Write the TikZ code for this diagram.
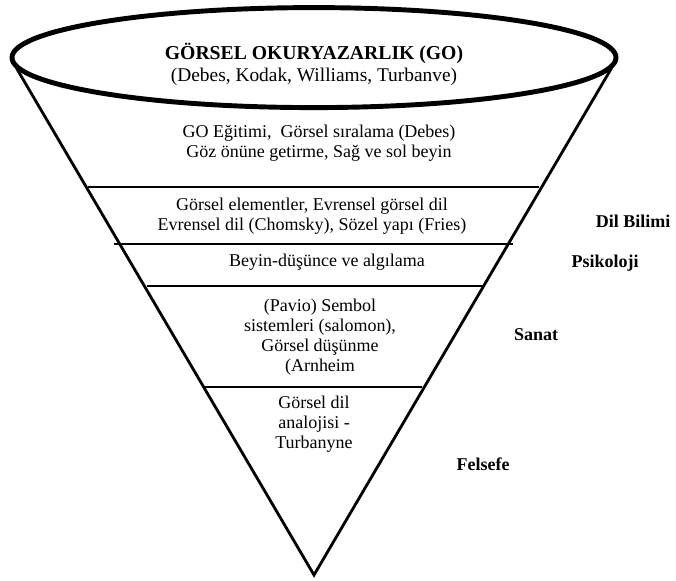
\documentclass[tikz,border=0pt]{standalone}
\usepackage{fontspec}
\setmainfont{Liberation Serif}
\usetikzlibrary{shapes.geometric}

\begin{document}
\begin{tikzpicture}[
  rim/.style={draw, ellipse, line width=3.5pt, fill=white, minimum width=15.1cm, minimum height=2.5cm},
  wall/.style={line width=2pt, line join=miter},
  divider/.style={line width=1.5pt},
  layer/.style={align=center, font=\fontsize{12.8}{14.4}\selectfont},
  field/.style={font=\bfseries\fontsize{12.8}{14.4}\selectfont},
]
\useasboundingbox (0,0) rectangle (16.9,-14.5);

% funnel
\coordinate (tl) at (0.41,-1.7);
\coordinate (tr) at (15.29,-1.7);
\coordinate (apex) at (7.85,-14.375);
\draw[wall] (tl) -- (apex) -- (tr);

\node[rim] (go) at (7.85,-1.44) {};
\node[align=center] (gotitle) at (7.85,-1.6) {{\bfseries\fontsize{14}{16}\selectfont GÖRSEL OKURYAZARLIK (GO)}\\[2pt]{\fontsize{13.8}{16}\selectfont (Debes, Kodak, Williams, Turbanve)}};

\draw[divider] (2.2,-4.675) -- (13.475,-4.675);
\draw[divider] (2.85,-6.1) -- (12.825,-6.1);
\draw[divider] (3.675,-7.15) -- (12.075,-7.15);
\draw[divider] (5.075,-9.675) -- (10.55,-9.675);

\node[layer] (egitim) at (7.975,-3.575) {GO Eğitimi,~ Görsel sıralama (Debes)\\Göz önüne getirme, Sağ ve sol beyin};
\node[layer] (dil) at (7.8,-5.4) {Görsel elementler, Evrensel görsel dil\\Evrensel dil (Chomsky), Sözel yapı (Fries)};
\node[layer] (beyin) at (8.175,-6.55) {Beyin-düşünce ve algılama};
\node[layer] (sembol) at (8.0,-8.43) {(Pavio) Sembol\\sistemleri (salomon),\\Görsel düşünme\\(Arnheim};
\node[layer] (analoji) at (7.85,-10.6) {Görsel dil\\analojisi -\\Turbanyne};

\node[field] (dilbilimi) at (15.825,-5.525) {Dil Bilimi};
\node[field] (psikoloji) at (15.125,-6.575) {Psikoloji};
\node[field] (sanat) at (13.4,-8.375) {Sanat};
\node[field] (felsefe) at (12.075,-11.6) {Felsefe};

\end{tikzpicture}
\end{document}
